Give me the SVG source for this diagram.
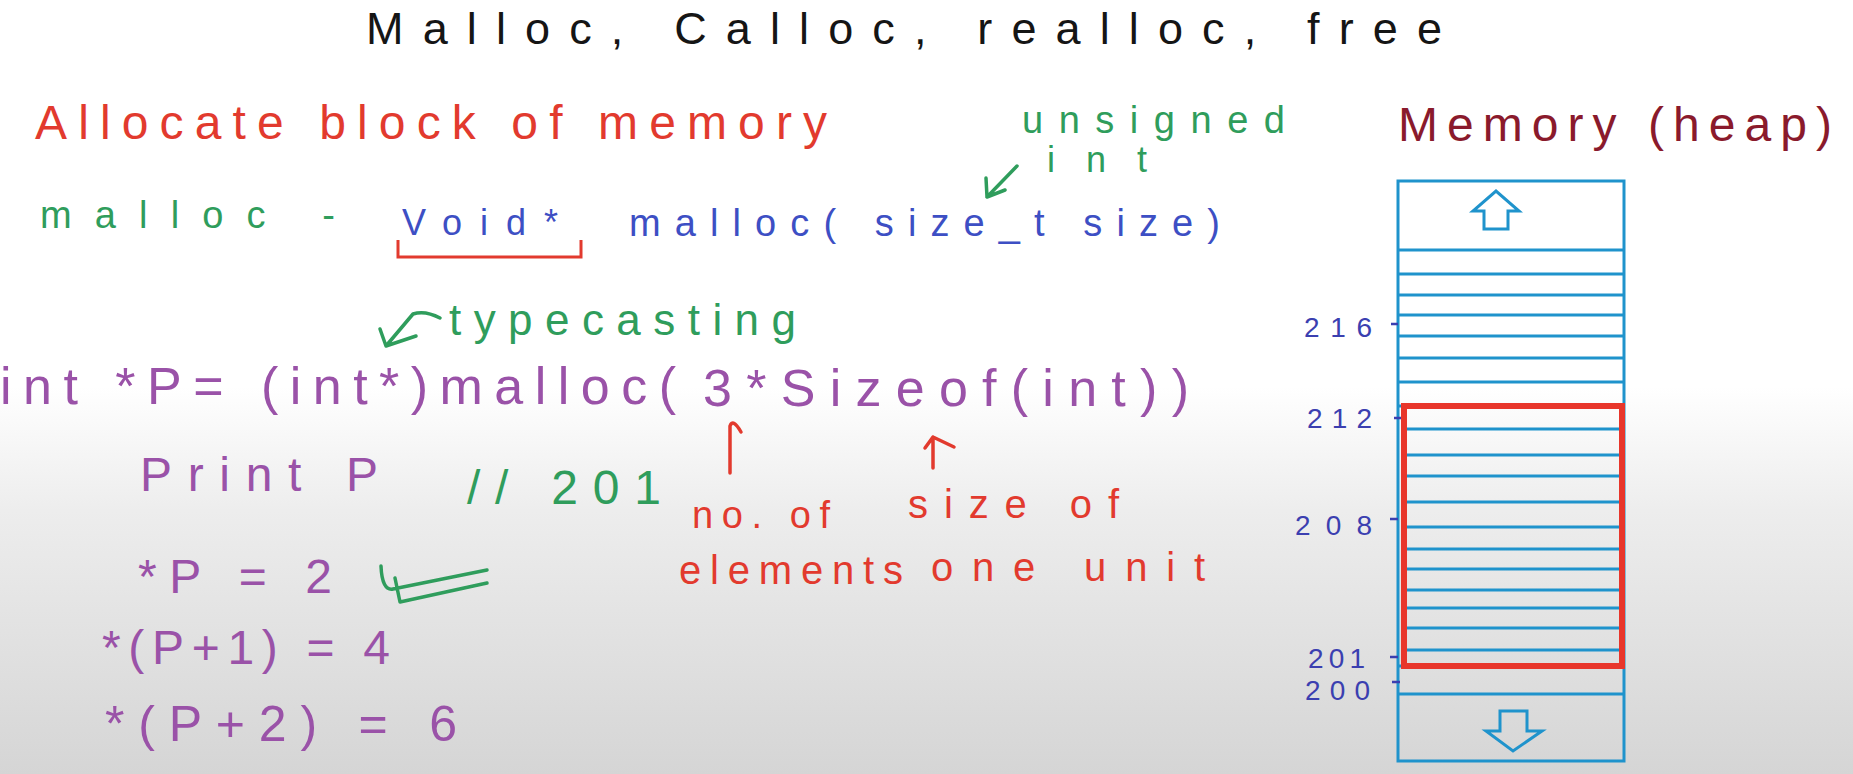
<svg xmlns="http://www.w3.org/2000/svg" width="1853" height="774" viewBox="0 0 1853 774">
<defs>
<linearGradient id="bg" gradientUnits="userSpaceOnUse" x1="0" y1="0" x2="0" y2="774">
<stop offset="0" stop-color="#ffffff"/>
<stop offset="0.5" stop-color="#ffffff"/>
<stop offset="0.66" stop-color="#ededed"/>
<stop offset="1" stop-color="#d5d5d5"/>
</linearGradient>
<style>
text{font-family:"Liberation Sans","DejaVu Sans",sans-serif;}
.blk{fill:#151515;}
.red{fill:#e23a2e;}
.grn{fill:#2f9d5c;}
.blu{fill:#3d4fc4;}
.pur{fill:#9a52a8;}
.drd{fill:#8a1a2c;}
.num{fill:#3b3fb0;font-size:28px;}
.cell{stroke:#1f93cc;stroke-width:3;fill:none;}
.tick{stroke:#3b3fb0;stroke-width:2.5;}
.gline{stroke:#2f9d5c;stroke-width:3.5;fill:none;stroke-linecap:round;stroke-linejoin:round;}
.rline{stroke:#e23a2e;stroke-width:3.5;fill:none;stroke-linecap:round;stroke-linejoin:round;}
</style>
</defs>
<rect x="0" y="0" width="1853" height="774" fill="url(#bg)"/>

<g id="title"><text class="blk" x="366" y="44" font-size="45" textLength="1076" lengthAdjust="spacing">Malloc, Calloc, realloc, free</text></g>

<g id="allocate"><text class="red" x="35" y="139" font-size="48" textLength="792" lengthAdjust="spacing">Allocate block of memory</text></g>

<g id="unsigned-int">
<text class="grn" x="1022" y="133" font-size="38" textLength="263" lengthAdjust="spacing">unsigned</text>
<text class="grn" x="1047" y="172" font-size="36" textLength="100" lengthAdjust="spacing">int</text>
</g>

<g id="malloc-signature">
<text class="grn" x="40" y="228" font-size="38" textLength="295" lengthAdjust="spacing">malloc -</text>
<text class="blu" x="402" y="235" font-size="36" textLength="156" lengthAdjust="spacing">Void*</text>
<text class="blu" x="629" y="236" font-size="38" textLength="591" lengthAdjust="spacing">malloc( size_t size)</text>
<path d="M398,240 L398,257 L581,257 L581,240" fill="none" stroke="#e23a2e" stroke-width="3"/>
</g>

<g id="typecasting"><text class="grn" x="449" y="335" font-size="44" textLength="347" lengthAdjust="spacing">typecasting</text></g>

<g id="code-line">
<text class="pur" x="0" y="404" font-size="52" textLength="676" lengthAdjust="spacing">int *P= (int*)malloc(</text>
<text class="pur" x="703" y="406" font-size="52" textLength="486" lengthAdjust="spacing">3*Sizeof(int))</text>
</g>

<g id="print-p">
<text class="pur" x="140" y="491" font-size="48" textLength="238" lengthAdjust="spacing">Print P</text>
<text class="grn" x="467" y="504" font-size="48" textLength="194" lengthAdjust="spacing">// 201</text>
</g>

<g id="deref">
<text class="pur" x="138" y="593" font-size="48" textLength="194" lengthAdjust="spacing">*P = 2</text>
<text class="pur" x="102" y="664" font-size="48" textLength="288" lengthAdjust="spacing">*(P+1) = 4</text>
<text class="pur" x="105" y="741" font-size="50" textLength="352" lengthAdjust="spacing">*(P+2) = 6</text>
<path class="gline" d="M381,566 Q382,591 393,589 L487,570 M395,578 L400,602 L487,583"/>
</g>

<g id="notes">
<text class="red" x="692" y="528" font-size="38" textLength="138" lengthAdjust="spacing">no. of</text>
<text class="red" x="679" y="584" font-size="40" textLength="224" lengthAdjust="spacing">elements</text>
<text class="red" x="908" y="518" font-size="40" textLength="211" lengthAdjust="spacing">size of</text>
<text class="red" x="931" y="581" font-size="40" textLength="274" lengthAdjust="spacing">one unit</text>
</g>

<g id="memory-title"><text class="drd" x="1398" y="141" font-size="48" textLength="434" lengthAdjust="spacing">Memory (heap)</text></g>

<g id="memory">
<rect class="cell" x="1398" y="181" width="226" height="580"/>
<path class="cell" d="M1398,250H1624 M1398,274H1624 M1398,295H1624 M1398,315H1624 M1398,336H1624 M1398,358H1624 M1398,382H1624 M1398,406H1624 M1404,429H1622 M1404,455H1622 M1404,476H1622 M1404,502H1622 M1404,527H1622 M1404,549H1622 M1404,569H1622 M1404,590H1622 M1404,608H1622 M1404,628H1622 M1404,650H1622 M1398,666H1624 M1398,694H1624"/>
<rect x="1404" y="406" width="218" height="260" fill="none" stroke="#e8362b" stroke-width="6"/>
<path class="cell" d="M1484,229 V211 H1473 L1496,191 L1519,211 H1508 V229 Z"/>
<path class="cell" d="M1500,711 V731 H1486 L1513,751 L1542,731 H1527 V711 Z"/>
<path class="tick" d="M1391,324H1398 M1394,418H1401 M1390,519H1398 M1390,657H1398 M1392,682H1400"/>
<text class="num" x="1304" y="337" textLength="68" lengthAdjust="spacing">216</text>
<text class="num" x="1307" y="428" textLength="65" lengthAdjust="spacing">212</text>
<text class="num" x="1295" y="535" textLength="77" lengthAdjust="spacing">208</text>
<text class="num" x="1308" y="668" font-size="25" textLength="57" lengthAdjust="spacing">201</text>
<text class="num" x="1305" y="700" font-size="25" textLength="65" lengthAdjust="spacing">200</text>
</g>

<g id="connectors">
<path class="gline" d="M1017,166 L987,197 M986,178 L987,197 L1005,190"/>
<path class="gline" d="M440,318 Q425,310 413,314 L386,346 M380,329 L386,346 L416,336"/>
<path class="rline" d="M730,473 L730,426 Q733,418 741,432"/>
<path class="rline" d="M933,468 L933,437 M925,448 L933,437 L954,447"/>
</g>
</svg>
